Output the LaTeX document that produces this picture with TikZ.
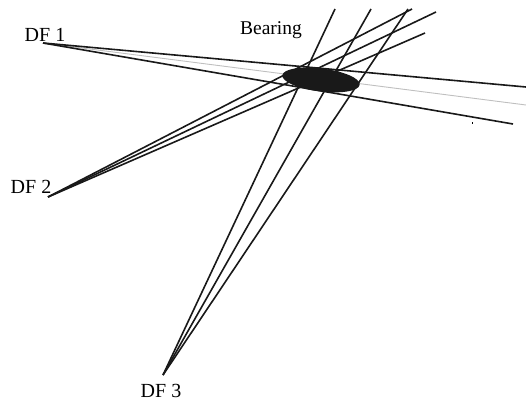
\documentclass[tikz,border=0pt]{standalone}
\usepackage{fontspec}
\setmainfont{Liberation Serif}
\usetikzlibrary{shapes.geometric}
\begin{document}
\begin{tikzpicture}[x=1pt,y=-1pt,
  bearingline/.style={line width=1.6pt,black!90},
  faintline/.style={line width=0.9pt,black!25},
  lbl/.style={font=\fontsize{20}{22}\selectfont,inner sep=0pt,anchor=base}]
\useasboundingbox (0,0) rectangle (526,401);
% stations
\coordinate (df1) at (43,43);
\coordinate (df2) at (48,197);
\coordinate (df3) at (163,375);
% labels
\node[lbl] (l1) at (45,42) {DF 1};
\node[lbl] (l2) at (31,193) {DF 2};
\node[lbl] (l3) at (161,397) {DF 3};
\node[lbl,font=\fontsize{19.5}{22}\selectfont] (lb) at (271,35) {Bearing};
% ends of DF1 bearings
\coordinate (a1) at (526,87);
\coordinate (a2) at (526,105);
\coordinate (a3) at (513,124);
% ends of DF2 bearings
\coordinate (b1) at (412,9);
\coordinate (b2) at (436,12);
\coordinate (b3) at (425,33);
% ends of DF3 bearings
\coordinate (c1) at (335,9);
\coordinate (c2) at (371,9);
\coordinate (c3) at (408,9);
% bearings
\draw[faintline] (df1) -- (a2);
\draw[bearingline] (df1) -- (a1);
\draw[bearingline] (df1) -- (a3);
\draw[bearingline] (df2) -- (b1);
\draw[bearingline] (df2) -- (b2);
\draw[bearingline] (df2) -- (b3);
\draw[bearingline] (df3) -- (c1);
\draw[bearingline] (df3) -- (c2);
\draw[bearingline] (df3) -- (c3);
% fix area
\node[ellipse,fill=black!90,minimum width=78pt,minimum height=23pt,inner sep=0pt,rotate=-7] (fix) at (321,80) {};
% small mark
\fill (471.5,122) rectangle (472.5,124);
\end{tikzpicture}
\end{document}
